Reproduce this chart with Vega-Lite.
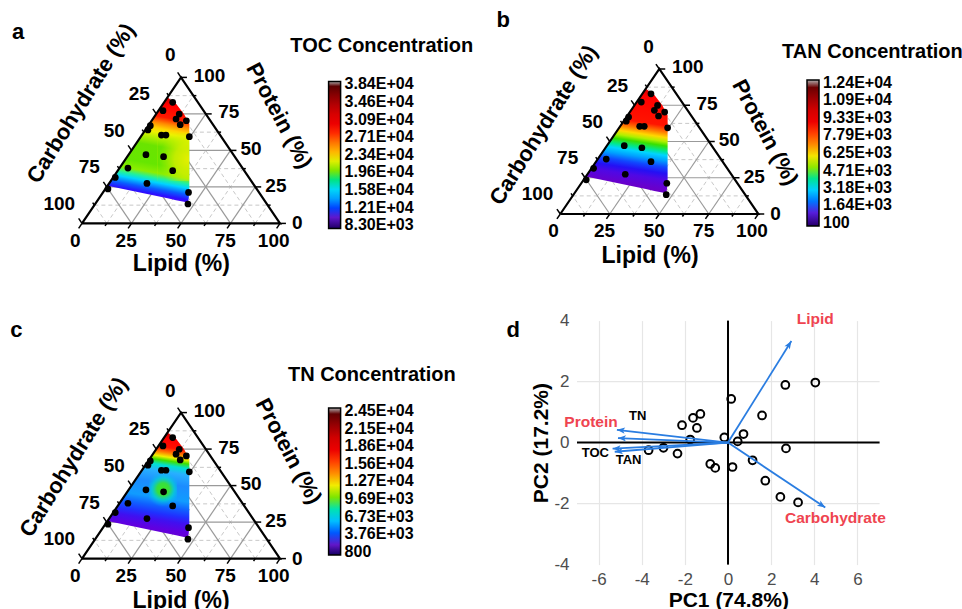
{
"$schema": "https://vega.github.io/schema/vega-lite/v6.json",
"background": "white",
"padding": {"left": 10, "top": 8, "right": 0, "bottom": 0},
"config": {"view": {"stroke": null}, "font": "Liberation Sans"},
"datasets": {
"pts": [
{"x":45.8,"y":82.9,"toc":32000,"tan":10000,"tn":20000},
{"x":40.9,"y":77.2,"toc":31000,"tan":9800,"tn":19000},
{"x":49.1,"y":74.9,"toc":30500,"tan":9500,"tn":17000},
{"x":47.5,"y":71.5,"toc":29500,"tan":9300,"tn":16000},
{"x":52.7,"y":70.3,"toc":28500,"tan":9000,"tn":14000},
{"x":49.6,"y":67.6,"toc":27000,"tan":8800,"tn":13000},
{"x":34.5,"y":66.9,"toc":26500,"tan":8500,"tn":11000},
{"x":33.3,"y":64.0,"toc":25000,"tan":7800,"tn":9500},
{"x":40.1,"y":60.5,"toc":22500,"tan":6300,"tn":6000},
{"x":42.4,"y":60.5,"toc":22500,"tan":6300,"tn":6500},
{"x":54.2,"y":59.4,"toc":24000,"tan":7800,"tn":4000},
{"x":32.3,"y":47.1,"toc":20000,"tan":3800,"tn":6500},
{"x":41.2,"y":45.7,"toc":20500,"tan":4500,"tn":9500},
{"x":23.2,"y":37.9,"toc":21000,"tan":2200,"tn":4000},
{"x":45.8,"y":36.1,"toc":23000,"tan":3000,"tn":5000},
{"x":16.8,"y":31.5,"toc":19500,"tan":1800,"tn":3500},
{"x":32.8,"y":27.4,"toc":16000,"tan":1000,"tn":2500},
{"x":13.1,"y":23.6,"toc":15500,"tan":900,"tn":1500},
{"x":53.8,"y":21.2,"toc":14000,"tan":700,"tn":1500},
{"x":53.5,"y":13.3,"toc":10000,"tan":400,"tn":1000}
],
"grid": [
{"k":"m","x":6.25,"y":12.5,"x2":93.75,"y2":12.5},
{"k":"M","x":12.5,"y":25,"x2":87.5,"y2":25},
{"k":"m","x":18.75,"y":37.5,"x2":81.25,"y2":37.5},
{"k":"M","x":25,"y":50,"x2":75,"y2":50},
{"k":"m","x":31.25,"y":62.5,"x2":68.75,"y2":62.5},
{"k":"M","x":37.5,"y":75,"x2":62.5,"y2":75},
{"k":"m","x":43.75,"y":87.5,"x2":56.25,"y2":87.5},
{"k":"m","x":12.5,"y":0,"x2":56.25,"y2":87.5},
{"k":"M","x":25,"y":0,"x2":62.5,"y2":75},
{"k":"m","x":37.5,"y":0,"x2":68.75,"y2":62.5},
{"k":"M","x":50,"y":0,"x2":75,"y2":50},
{"k":"m","x":62.5,"y":0,"x2":81.25,"y2":37.5},
{"k":"M","x":75,"y":0,"x2":87.5,"y2":25},
{"k":"m","x":87.5,"y":0,"x2":93.75,"y2":12.5},
{"k":"m","x":87.5,"y":0,"x2":43.75,"y2":87.5},
{"k":"M","x":75,"y":0,"x2":37.5,"y2":75},
{"k":"m","x":62.5,"y":0,"x2":31.25,"y2":62.5},
{"k":"M","x":50,"y":0,"x2":25,"y2":50},
{"k":"m","x":37.5,"y":0,"x2":18.75,"y2":37.5},
{"k":"M","x":25,"y":0,"x2":12.5,"y2":25},
{"k":"m","x":12.5,"y":0,"x2":6.25,"y2":12.5}
],
"ticks": [
{"x":0,"y":0,"x2":-1.7,"y2":-3.4},{"x":25,"y":0,"x2":23.3,"y2":-3.4},{"x":50,"y":0,"x2":48.3,"y2":-3.4},{"x":75,"y":0,"x2":73.3,"y2":-3.4},{"x":100,"y":0,"x2":98.3,"y2":-3.4},
{"x":12.5,"y":0,"x2":11.65,"y2":-1.7},{"x":37.5,"y":0,"x2":36.65,"y2":-1.7},{"x":62.5,"y":0,"x2":61.65,"y2":-1.7},{"x":87.5,"y":0,"x2":86.65,"y2":-1.7},
{"x":100,"y":0,"x2":103,"y2":0},{"x":87.5,"y":25,"x2":90.5,"y2":25},{"x":75,"y":50,"x2":78,"y2":50},{"x":62.5,"y":75,"x2":65.5,"y2":75},{"x":50,"y":100,"x2":53,"y2":100},
{"x":93.75,"y":12.5,"x2":95.25,"y2":12.5},{"x":81.25,"y":37.5,"x2":82.75,"y2":37.5},{"x":68.75,"y":62.5,"x2":70.25,"y2":62.5},{"x":56.25,"y":87.5,"x2":57.75,"y2":87.5},
{"x":50,"y":100,"x2":48.3,"y2":103.4},{"x":37.5,"y":75,"x2":35.8,"y2":78.4},{"x":25,"y":50,"x2":23.3,"y2":53.4},{"x":12.5,"y":25,"x2":10.8,"y2":28.4},{"x":0,"y":0,"x2":-1.7,"y2":3.4},
{"x":43.75,"y":87.5,"x2":42.9,"y2":89.2},{"x":31.25,"y":62.5,"x2":30.4,"y2":64.2},{"x":18.75,"y":37.5,"x2":17.9,"y2":39.2},{"x":6.25,"y":12.5,"x2":5.4,"y2":14.2}
],
"tl": [
{"t":"0","x":-3.4,"y":-11.8,"s":"B"},{"t":"25","x":22.3,"y":-11.8,"s":"B"},{"t":"50","x":47.5,"y":-11.8,"s":"B"},{"t":"75","x":72.4,"y":-11.8,"s":"B"},{"t":"100","x":96.8,"y":-11.8,"s":"B"},
{"t":"0","x":106,"y":0,"s":"R"},{"t":"25","x":92.6,"y":25.8,"s":"R"},{"t":"50","x":80,"y":51.2,"s":"R"},{"t":"75","x":68.8,"y":76,"s":"R"},{"t":"100","x":56.4,"y":101.2,"s":"R"},
{"t":"0","x":44.6,"y":115,"s":"L"},{"t":"25","x":28.9,"y":88.6,"s":"L"},{"t":"50","x":16.3,"y":63.5,"s":"L"},{"t":"75","x":3.7,"y":38.4,"s":"L"},{"t":"100","x":-11.5,"y":13.5,"s":"L"}
],
"edge": [{"x":0,"y":0,"o":0},{"x":100,"y":0,"o":1},{"x":50,"y":100,"o":2},{"x":0,"y":0,"o":3}],
"region": [
{"x":12.9,"y":25.8,"y2":25.8},
{"x":43.2,"y":86.4,"y2":17.16},
{"x":47.5,"y":82,"y2":15.94},
{"x":51.5,"y":75,"y2":14.8},
{"x":53.6,"y":69.56,"y2":14.2},
{"x":54.2,"y":68,"y2":21}
],
"pca": [
{"pc1":2.66,"pc2":1.89},{"pc1":4.05,"pc2":1.97},{"pc1":0.15,"pc2":1.43},{"pc1":1.58,"pc2":0.89},{"pc1":-1.28,"pc2":0.94},{"pc1":-1.62,"pc2":0.81},{"pc1":-2.13,"pc2":0.57},{"pc1":-1.44,"pc2":0.48},{"pc1":0.72,"pc2":0.28},{"pc1":-0.17,"pc2":0.17},{"pc1":0.45,"pc2":0.04},{"pc1":-1.75,"pc2":0.1},{"pc1":-3.68,"pc2":-0.25},{"pc1":-2.99,"pc2":-0.17},{"pc1":-2.34,"pc2":-0.36},{"pc1":2.69,"pc2":-0.19},{"pc1":-0.82,"pc2":-0.7},{"pc1":-0.59,"pc2":-0.83},{"pc1":0.21,"pc2":-0.8},{"pc1":1.14,"pc2":-0.58},{"pc1":1.73,"pc2":-1.25},{"pc1":2.43,"pc2":-1.78},{"pc1":3.25,"pc2":-1.96}
],
"arrows": [
{"v":"Lipid","o1":0,"o2":0,"pc1":2.94,"pc2":3.33,"h":32},
{"v":"Carbohydrate","o1":0,"o2":0,"pc1":4.51,"pc2":-2.13,"h":124},
{"v":"Protein","o1":0,"o2":0,"pc1":-5.15,"pc2":0.42,"h":276.6},
{"v":"TN","o1":0,"o2":0,"pc1":-5.1,"pc2":0.15,"h":272.4},
{"v":"TOC","o1":0,"o2":0,"pc1":-5.35,"pc2":-0.2,"h":267},
{"v":"TAN","o1":0,"o2":0,"pc1":-5.25,"pc2":-0.3,"h":265.4}
],
"plabels": [
{"t":"Lipid","pc1":4.05,"pc2":4.05,"k":"v"},
{"t":"Carbohydrate","pc1":4.98,"pc2":-2.48,"k":"v"},
{"t":"Protein","pc1":-6.35,"pc2":0.69,"k":"v"},
{"t":"TN","pc1":-4.19,"pc2":0.87,"k":"r"},
{"t":"TOC","pc1":-6.15,"pc2":-0.33,"k":"r"},
{"t":"TAN","pc1":-4.61,"pc2":-0.58,"k":"r"}
]
},
"columns": 2,
"spacing": {"row": 96.6, "column": 297},
"bounds": "flush",
"resolve": {"scale": {"stroke": "independent"}, "legend": {"stroke": "independent"}},
"concat": [
{
"width": 198, "height": 154.4,
"encoding": {
"x": {"field": "x", "type": "quantitative", "scale": {"domain": [0, 100], "nice": false, "zero": false}, "axis": null},
"y": {"field": "y", "type": "quantitative", "scale": {"domain": [0, 105.75], "nice": false, "zero": false}, "axis": null}
},
"layer": [
{"data": {"name": "grid"}, "transform": [{"filter": "datum.k == 'm'"}], "mark": {"type": "rule", "color": "#c8c8c8", "strokeWidth": 1, "strokeDash": [4, 3]}, "encoding": {"x2": {"field": "x2"}, "y2": {"field": "y2"}}},
{"data": {"name": "grid"}, "transform": [{"filter": "datum.k == 'M'"}], "mark": {"type": "rule", "color": "#9a9a9a", "strokeWidth": 1.2}, "encoding": {"x2": {"field": "x2"}, "y2": {"field": "y2"}}},
{"data": {"name": "region"}, "mark": {"type": "area", "fill": {"gradient": "linear", "x1": 0.57, "y1": 0, "x2": 0.43, "y2": 1, "stops": [
{"offset": 0, "color": "#d80000"}, {"offset": 0.05, "color": "#ff0000"}, {"offset": 0.17, "color": "#ff1a00"}, {"offset": 0.23, "color": "#ff8a00"}, {"offset": 0.28, "color": "#ffd200"}, {"offset": 0.32, "color": "#eef200"}, {"offset": 0.37, "color": "#b4f000"}, {"offset": 0.45, "color": "#6ae400"}, {"offset": 0.62, "color": "#66e600"}, {"offset": 0.7, "color": "#8cee00"}, {"offset": 0.75, "color": "#20f0a0"}, {"offset": 0.79, "color": "#00d4ff"}, {"offset": 0.85, "color": "#0a5cff"}, {"offset": 0.9, "color": "#2a10ff"}, {"offset": 0.95, "color": "#6a00f0"}, {"offset": 1, "color": "#7c00d8"}]}}, "encoding": {"y2": {"field": "y2"}}},
{"data": {"values": [{"x": 38, "y": 62, "y2": 29}, {"x": 54.2, "y": 62, "y2": 29}]}, "mark": {"type": "area", "fill": {"gradient": "radial", "x1": 0.85, "y1": 0.55, "r1": 0, "x2": 0.85, "y2": 0.55, "r2": 0.65, "stops": [{"offset": 0, "color": "rgba(238,240,0,0.95)"}, {"offset": 0.5, "color": "rgba(230,240,0,0.7)"}, {"offset": 1, "color": "rgba(200,240,0,0)"}]}}, "encoding": {"y2": {"field": "y2"}}},
{"data": {"name": "edge"}, "mark": {"type": "line", "color": "black", "strokeWidth": 2.2, "strokeJoin": "miter"}, "encoding": {"order": {"field": "o", "type": "quantitative"}}},
{"data": {"name": "ticks"}, "mark": {"type": "rule", "color": "black", "strokeWidth": 1.5}, "encoding": {"x2": {"field": "x2"}, "y2": {"field": "y2"}}},
{"data": {"name": "pts"}, "mark": {"type": "point", "shape": "circle", "filled": true, "fill": "black", "strokeWidth": 0, "size": 45, "opacity": 1},
 "encoding": {"stroke": {"field": "toc", "type": "quantitative",
  "scale": {"domain": [7660, 8915, 11739, 15505, 18957, 22409, 25233, 28371, 32764, 36843, 38412, 39040], "range": ["#000000", "#6a0fb0", "#1f2cff", "#00d2ff", "#22e000", "#f0f000", "#ff8800", "#ff0000", "#d00000", "#7a0000", "#500000", "#b0b0b0"]},
  "legend": {"orient": "none", "legendX": 246.6, "legendY": 12.4, "title": null, "direction": "vertical", "gradientLength": 147, "gradientThickness": 12, "gradientStrokeColor": "black", "gradientStrokeWidth": 1.5, "values": [8300, 12100, 15800, 19600, 23400, 27100, 30900, 34600, 38400], "labelExpr": "datum.value < 1000 ? format(datum.value, 'd') : replace(format(datum.value, '.2e'), 'e+', 'E+0')", "labelFont": "Liberation Sans", "labelFontSize": 16, "labelFontWeight": "bold", "labelColor": "black", "labelOffset": 4, "labelOverlap": false}}}},
{"data": {"name": "tl"}, "transform": [{"filter": "datum.s != 'R'"}], "mark": {"type": "text", "font": "Liberation Sans", "fontWeight": "bold", "fontSize": 19, "align": "center", "baseline": "middle", "color": "black"}, "encoding": {"text": {"field": "t", "type": "nominal"}}},
{"data": {"name": "tl"}, "transform": [{"filter": "datum.s == 'R'"}], "mark": {"type": "text", "font": "Liberation Sans", "fontWeight": "bold", "fontSize": 19, "align": "left", "baseline": "middle", "color": "black"}, "encoding": {"text": {"field": "t", "type": "nominal"}}},
{"data": {"values": [{"t": "Lipid (%)", "x": 50.2, "y": -27.6}]}, "mark": {"type": "text", "font": "Liberation Sans", "fontWeight": "bold", "fontSize": 23, "align": "center", "baseline": "middle", "color": "black"}, "encoding": {"text": {"field": "t", "type": "nominal"}}},
{"data": {"values": [{"t": "Protein (%)", "x": 99.6, "y": 73.8}]}, "mark": {"type": "text", "angle": 62, "font": "Liberation Sans", "fontWeight": "bold", "fontSize": 22, "align": "center", "baseline": "middle", "color": "black"}, "encoding": {"text": {"field": "t", "type": "nominal"}}},
{"data": {"values": [{"t": "Carbohydrate (%)", "x": -0.5, "y": 82.3}]}, "mark": {"type": "text", "angle": -58, "font": "Liberation Sans", "fontWeight": "bold", "fontSize": 22, "align": "center", "baseline": "middle", "color": "black"}, "encoding": {"text": {"field": "t", "type": "nominal"}}},
{"data": {"values": [{"t": "TOC Concentration", "x": 105.2, "y": 121.7}]}, "mark": {"type": "text", "font": "Liberation Sans", "fontWeight": "bold", "fontSize": 20, "align": "left", "baseline": "middle", "color": "black"}, "encoding": {"text": {"field": "t", "type": "nominal"}}},
{"data": {"values": [{"t": "a", "x": -32.2, "y": 131.3}]}, "mark": {"type": "text", "font": "Liberation Sans", "fontWeight": "bold", "fontSize": 22, "align": "center", "baseline": "middle", "color": "black"}, "encoding": {"text": {"field": "t", "type": "nominal"}}}
]
},
{
"width": 181.3, "height": 145,
"encoding": {
"x": {"field": "x", "type": "quantitative", "scale": {"domain": [8.43, 100], "nice": false, "zero": false}, "axis": null},
"y": {"field": "y", "type": "quantitative", "scale": {"domain": [0, 100], "nice": false, "zero": false}, "axis": null}
},
"layer": [
{"data": {"name": "grid"}, "transform": [{"filter": "datum.k == 'm'"}], "mark": {"type": "rule", "color": "#c8c8c8", "strokeWidth": 1, "strokeDash": [4, 3]}, "encoding": {"x2": {"field": "x2"}, "y2": {"field": "y2"}}},
{"data": {"name": "grid"}, "transform": [{"filter": "datum.k == 'M'"}], "mark": {"type": "rule", "color": "#9a9a9a", "strokeWidth": 1.2}, "encoding": {"x2": {"field": "x2"}, "y2": {"field": "y2"}}},
{"data": {"name": "region"}, "mark": {"type": "area", "fill": {"gradient": "linear", "x1": 0.56, "y1": 0, "x2": 0.44, "y2": 1, "stops": [
{"offset": 0, "color": "#e00000"}, {"offset": 0.05, "color": "#ff0000"}, {"offset": 0.3, "color": "#ff1400"}, {"offset": 0.36, "color": "#ff7a00"}, {"offset": 0.41, "color": "#ffd800"}, {"offset": 0.45, "color": "#b0f000"}, {"offset": 0.49, "color": "#38e000"}, {"offset": 0.54, "color": "#00e88c"}, {"offset": 0.58, "color": "#00d4ff"}, {"offset": 0.63, "color": "#00a0ff"}, {"offset": 0.69, "color": "#1048ff"}, {"offset": 0.75, "color": "#2410f4"}, {"offset": 0.81, "color": "#5008e4"}, {"offset": 0.9, "color": "#6800cc"}, {"offset": 1, "color": "#7000b8"}]}}, "encoding": {"y2": {"field": "y2"}}},
{"data": {"name": "edge"}, "mark": {"type": "line", "color": "black", "strokeWidth": 2.2, "strokeJoin": "miter"}, "encoding": {"order": {"field": "o", "type": "quantitative"}}},
{"data": {"name": "ticks"}, "mark": {"type": "rule", "color": "black", "strokeWidth": 1.5}, "encoding": {"x2": {"field": "x2"}, "y2": {"field": "y2"}}},
{"data": {"name": "pts"}, "mark": {"type": "point", "shape": "circle", "filled": true, "fill": "black", "strokeWidth": 0, "size": 45, "opacity": 1},
 "encoding": {"stroke": {"field": "tan", "type": "quantitative",
  "scale": {"domain": [-163, 350, 1504, 3044, 4454, 5865, 7020, 8302, 10098, 11765, 12406, 12663], "range": ["#000000", "#6a0fb0", "#1f2cff", "#00d2ff", "#22e000", "#f0f000", "#ff8800", "#ff0000", "#d00000", "#7a0000", "#500000", "#b0b0b0"]},
  "legend": {"orient": "none", "legendX": 230, "legendY": 11, "title": null, "direction": "vertical", "gradientLength": 146, "gradientThickness": 12, "gradientStrokeColor": "black", "gradientStrokeWidth": 1.5, "values": [100, 1640, 3180, 4710, 6250, 7790, 9330, 10900, 12400], "labelExpr": "datum.value < 1000 ? format(datum.value, 'd') : replace(format(datum.value, '.2e'), 'e+', 'E+0')", "labelFont": "Liberation Sans", "labelFontSize": 16, "labelFontWeight": "bold", "labelColor": "black", "labelOffset": 4, "labelOverlap": false}}}},
{"data": {"name": "tl"}, "transform": [{"filter": "datum.s != 'R'"}], "mark": {"type": "text", "font": "Liberation Sans", "fontWeight": "bold", "fontSize": 19, "align": "center", "baseline": "middle", "color": "black"}, "encoding": {"text": {"field": "t", "type": "nominal"}}},
{"data": {"name": "tl"}, "transform": [{"filter": "datum.s == 'R'"}], "mark": {"type": "text", "font": "Liberation Sans", "fontWeight": "bold", "fontSize": 19, "align": "left", "baseline": "middle", "color": "black"}, "encoding": {"text": {"field": "t", "type": "nominal"}}},
{"data": {"values": [{"t": "Lipid (%)", "x": 45.3, "y": -28.8}]}, "mark": {"type": "text", "font": "Liberation Sans", "fontWeight": "bold", "fontSize": 23, "align": "center", "baseline": "middle", "color": "black"}, "encoding": {"text": {"field": "t", "type": "nominal"}}},
{"data": {"values": [{"t": "Protein (%)", "x": 103.5, "y": 56.3}]}, "mark": {"type": "text", "angle": 62, "font": "Liberation Sans", "fontWeight": "bold", "fontSize": 22, "align": "center", "baseline": "middle", "color": "black"}, "encoding": {"text": {"field": "t", "type": "nominal"}}},
{"data": {"values": [{"t": "Carbohydrate (%)", "x": -8.4, "y": 61.4}]}, "mark": {"type": "text", "angle": -58, "font": "Liberation Sans", "fontWeight": "bold", "fontSize": 22, "align": "center", "baseline": "middle", "color": "black"}, "encoding": {"text": {"field": "t", "type": "nominal"}}},
{"data": {"values": [{"t": "TAN Concentration", "x": 112, "y": 111.4}]}, "mark": {"type": "text", "font": "Liberation Sans", "fontWeight": "bold", "fontSize": 20, "align": "left", "baseline": "middle", "color": "black"}, "encoding": {"text": {"field": "t", "type": "nominal"}}},
{"data": {"values": [{"t": "b", "x": -28.8, "y": 134}]}, "mark": {"type": "text", "font": "Liberation Sans", "fontWeight": "bold", "fontSize": 22, "align": "center", "baseline": "middle", "color": "black"}, "encoding": {"text": {"field": "t", "type": "nominal"}}}
]
},
{
"width": 198, "height": 238,
"encoding": {
"x": {"field": "x", "type": "quantitative", "scale": {"domain": [0, 100], "nice": false, "zero": false}, "axis": null},
"y": {"field": "y", "type": "quantitative", "scale": {"domain": [0, 163], "nice": false, "zero": false}, "axis": null}
},
"layer": [
{"data": {"name": "grid"}, "transform": [{"filter": "datum.k == 'm'"}], "mark": {"type": "rule", "color": "#c8c8c8", "strokeWidth": 1, "strokeDash": [4, 3]}, "encoding": {"x2": {"field": "x2"}, "y2": {"field": "y2"}}},
{"data": {"name": "grid"}, "transform": [{"filter": "datum.k == 'M'"}], "mark": {"type": "rule", "color": "#9a9a9a", "strokeWidth": 1.2}, "encoding": {"x2": {"field": "x2"}, "y2": {"field": "y2"}}},
{"data": {"name": "region"}, "mark": {"type": "area", "fill": {"gradient": "linear", "x1": 0.56, "y1": 0, "x2": 0.44, "y2": 1, "stops": [
{"offset": 0, "color": "#d00000"}, {"offset": 0.04, "color": "#ff0000"}, {"offset": 0.12, "color": "#ff1000"}, {"offset": 0.17, "color": "#ff8000"}, {"offset": 0.21, "color": "#f0f000"}, {"offset": 0.245, "color": "#40e000"}, {"offset": 0.29, "color": "#00e0d0"}, {"offset": 0.35, "color": "#28b0ff"}, {"offset": 0.46, "color": "#1c8cff"}, {"offset": 0.6, "color": "#109cff"}, {"offset": 0.68, "color": "#1060ff"}, {"offset": 0.75, "color": "#2030ff"}, {"offset": 0.81, "color": "#4010f0"}, {"offset": 0.89, "color": "#6000e0"}, {"offset": 1, "color": "#7000c8"}]}}, "encoding": {"y2": {"field": "y2"}}},
{"data": {"values": [{"x": 34, "y": 59.5, "y2": 35.5}, {"x": 48, "y": 59.5, "y2": 35.5}]}, "mark": {"type": "area", "fill": {"gradient": "radial", "x1": 0.5, "y1": 0.5, "r1": 0, "x2": 0.5, "y2": 0.5, "r2": 0.5, "stops": [{"offset": 0, "color": "rgba(60,230,40,1)"}, {"offset": 0.35, "color": "rgba(60,230,40,0.9)"}, {"offset": 0.65, "color": "rgba(0,224,200,0.6)"}, {"offset": 1, "color": "rgba(0,180,255,0)"}]}}, "encoding": {"y2": {"field": "y2"}}},
{"data": {"name": "edge"}, "mark": {"type": "line", "color": "black", "strokeWidth": 2.2, "strokeJoin": "miter"}, "encoding": {"order": {"field": "o", "type": "quantitative"}}},
{"data": {"name": "ticks"}, "mark": {"type": "rule", "color": "black", "strokeWidth": 1.5}, "encoding": {"x2": {"field": "x2"}, "y2": {"field": "y2"}}},
{"data": {"name": "pts"}, "mark": {"type": "point", "shape": "circle", "filled": true, "fill": "black", "strokeWidth": 0, "size": 45, "opacity": 1},
 "encoding": {"stroke": {"field": "tn", "type": "quantitative",
  "scale": {"domain": [294, 1282, 3507, 6472, 9190, 11909, 14133, 16604, 20064, 23276, 24512, 25006], "range": ["#000000", "#6a0fb0", "#1f2cff", "#00d2ff", "#22e000", "#f0f000", "#ff8800", "#ff0000", "#d00000", "#7a0000", "#500000", "#b0b0b0"]},
  "legend": {"orient": "none", "legendX": 246.6, "legendY": 87.4, "title": null, "direction": "vertical", "gradientLength": 147, "gradientThickness": 12, "gradientStrokeColor": "black", "gradientStrokeWidth": 1.5, "values": [800, 3760, 6730, 9690, 12700, 15600, 18600, 21500, 24500], "labelExpr": "datum.value < 1000 ? format(datum.value, 'd') : replace(format(datum.value, '.2e'), 'e+', 'E+0')", "labelFont": "Liberation Sans", "labelFontSize": 16, "labelFontWeight": "bold", "labelColor": "black", "labelOffset": 4, "labelOverlap": false}}}},
{"data": {"name": "tl"}, "transform": [{"filter": "datum.s != 'R'"}], "mark": {"type": "text", "font": "Liberation Sans", "fontWeight": "bold", "fontSize": 19, "align": "center", "baseline": "middle", "color": "black"}, "encoding": {"text": {"field": "t", "type": "nominal"}}},
{"data": {"name": "tl"}, "transform": [{"filter": "datum.s == 'R'"}], "mark": {"type": "text", "font": "Liberation Sans", "fontWeight": "bold", "fontSize": 19, "align": "left", "baseline": "middle", "color": "black"}, "encoding": {"text": {"field": "t", "type": "nominal"}}},
{"data": {"values": [{"t": "Lipid (%)", "x": 50, "y": -29}]}, "mark": {"type": "text", "font": "Liberation Sans", "fontWeight": "bold", "fontSize": 23, "align": "center", "baseline": "middle", "color": "black"}, "encoding": {"text": {"field": "t", "type": "nominal"}}},
{"data": {"values": [{"t": "Protein (%)", "x": 104.3, "y": 73.5}]}, "mark": {"type": "text", "angle": 62, "font": "Liberation Sans", "fontWeight": "bold", "fontSize": 22, "align": "center", "baseline": "middle", "color": "black"}, "encoding": {"text": {"field": "t", "type": "nominal"}}},
{"data": {"values": [{"t": "Carbohydrate (%)", "x": -4.2, "y": 69.5}]}, "mark": {"type": "text", "angle": -58, "font": "Liberation Sans", "fontWeight": "bold", "fontSize": 22, "align": "center", "baseline": "middle", "color": "black"}, "encoding": {"text": {"field": "t", "type": "nominal"}}},
{"data": {"values": [{"t": "TN Concentration", "x": 104, "y": 125.5}]}, "mark": {"type": "text", "font": "Liberation Sans", "fontWeight": "bold", "fontSize": 20, "align": "left", "baseline": "middle", "color": "black"}, "encoding": {"text": {"field": "t", "type": "nominal"}}},
{"data": {"values": [{"t": "c", "x": -33.2, "y": 156.4}]}, "mark": {"type": "text", "font": "Liberation Sans", "fontWeight": "bold", "fontSize": 22, "align": "center", "baseline": "middle", "color": "black"}, "encoding": {"text": {"field": "t", "type": "nominal"}}}
]
},
{
"width": 302.6, "height": 244,
"encoding": {
"x": {"field": "pc1", "type": "quantitative", "scale": {"domain": [-7, 7.03], "nice": false, "zero": false},
 "axis": {"title": "PC1 (74.8%)", "values": [-6, -4, -2, 0, 2, 4, 6], "labelExpr": "'' + datum.value", "grid": true, "gridColor": "#e6e6e6", "gridWidth": 1.2, "domain": false, "ticks": false, "labelFont": "Liberation Sans", "labelFontSize": 17, "labelColor": "#4d4d4d", "labelPadding": 7, "titleFont": "Liberation Sans", "titleFontSize": 21, "titleFontWeight": "bold", "titleColor": "black", "titlePadding": 2}},
"y": {"field": "pc2", "type": "quantitative", "scale": {"domain": [-4, 4], "nice": false, "zero": false},
 "axis": {"title": "PC2 (17.2%)", "values": [-4, -2, 0, 2, 4], "labelExpr": "'' + datum.value", "grid": false, "domain": false, "ticks": false, "labelFont": "Liberation Sans", "labelFontSize": 17, "labelColor": "#4d4d4d", "labelPadding": 8, "titleFont": "Liberation Sans", "titleFontSize": 21, "titleFontWeight": "bold", "titleColor": "black", "titlePadding": 2}}
},
"layer": [
{"data": {"values": [{"pc2": -2}, {"pc2": 2}]}, "mark": {"type": "rule", "color": "#e6e6e6", "strokeWidth": 1.2}, "encoding": {"x": null}},
{"data": {"values": [{"pc2": 0}]}, "mark": {"type": "rule", "color": "black", "strokeWidth": 2}, "encoding": {"x": null}},
{"data": {"values": [{"pc1": 0}]}, "mark": {"type": "rule", "color": "black", "strokeWidth": 2}, "encoding": {"y": null}},
{"data": {"name": "pca"}, "mark": {"type": "point", "shape": "circle", "filled": false, "stroke": "black", "strokeWidth": 2, "size": 60, "opacity": 1}},
{"data": {"name": "arrows"}, "mark": {"type": "rule", "color": "#2a7de1", "strokeWidth": 1.8},
 "encoding": {"x": {"field": "o1", "type": "quantitative"}, "y": {"field": "o2", "type": "quantitative"}, "x2": {"field": "pc1"}, "y2": {"field": "pc2"}}},
{"data": {"name": "arrows"}, "mark": {"type": "point", "shape": "M0,0L-0.7,1.8L0,1.35L0.7,1.8Z", "filled": true, "color": "#2a7de1", "size": 80, "opacity": 1, "strokeWidth": 0},
 "encoding": {"angle": {"field": "h", "type": "quantitative", "scale": {"domain": [0, 360], "range": [0, 360]}}}},
{"data": {"name": "plabels"}, "transform": [{"filter": "datum.k == 'v'"}], "mark": {"type": "text", "font": "Liberation Sans", "fontWeight": "bold", "fontSize": 15.5, "align": "center", "baseline": "middle", "color": "#ef4450"},
 "encoding": {"text": {"field": "t", "type": "nominal"}}},
{"data": {"name": "plabels"}, "transform": [{"filter": "datum.k == 'r'"}], "mark": {"type": "text", "font": "Liberation Sans", "fontWeight": "bold", "fontSize": 13, "align": "center", "baseline": "middle", "color": "black"},
 "encoding": {"text": {"field": "t", "type": "nominal"}}},
{"data": {"values": [{"t": "d", "pc1": -9.96, "pc2": 3.68}]}, "mark": {"type": "text", "font": "Liberation Sans", "fontWeight": "bold", "fontSize": 22, "align": "center", "baseline": "middle", "color": "black"}, "encoding": {"text": {"field": "t", "type": "nominal"}}}
]
}
]
}
